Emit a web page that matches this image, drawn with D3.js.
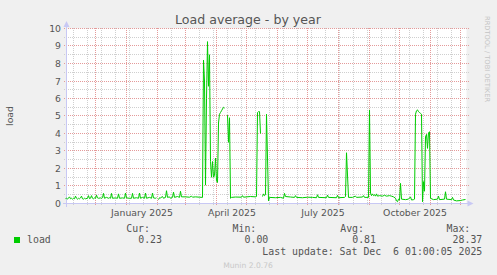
<!DOCTYPE html>
<html><head><meta charset="utf-8">
<script src="https://cdn.jsdelivr.net/npm/d3@7/dist/d3.min.js"></script>
<style>body{margin:0;background:#f0f0f0;}svg{display:block;}</style>
</head><body>
<svg id="chart" width="497" height="275"></svg>
<script>
// ---------- data ----------
const title = "Load average - by year";
const yLabel = "load";
const seriesName = "load";
const yTicks = [0,1,2,3,4,5,6,7,8,9,10];
const xLabelMonths = ["2025-01-01","2025-04-01","2025-07-01","2025-10-01"];
const rangeStart = "2024-11-01";
const rangeEnd = "2025-12-06";
const statLabels = ["Cur:","Min:","Avg:","Max:"];
const statValues = ["0.23","0.00","0.81","28.37"];
const lastUpdate = "Last update: Sat Dec  6 01:00:05 2025";
const watermark = "RRDTOOL / TOBI OETIKER";
const footer = "Munin 2.0.76";

const dates = [
"2024-11-01","2024-11-02","2024-11-03","2024-11-04","2024-11-05","2024-11-06","2024-11-07","2024-11-08","2024-11-09","2024-11-10",
"2024-11-11","2024-11-12","2024-11-13","2024-11-14","2024-11-15","2024-11-16","2024-11-17","2024-11-18","2024-11-19","2024-11-20",
"2024-11-21","2024-11-23","2024-11-24","2024-11-25","2024-11-26","2024-11-27","2024-11-28","2024-11-29","2024-11-30",
"2024-12-01","2024-12-02","2024-12-03","2024-12-04","2024-12-06","2024-12-07","2024-12-08","2024-12-09","2024-12-10","2024-12-12",
"2024-12-14","2024-12-15","2024-12-16","2024-12-17","2024-12-18","2024-12-21","2024-12-23","2024-12-24","2024-12-25","2024-12-28",
"2024-12-30","2024-12-31","2025-01-01","2025-01-04","2025-01-06","2025-01-07","2025-01-08","2025-01-11","2025-01-13","2025-01-14",
"2025-01-15","2025-01-17","2025-01-19","2025-01-20","2025-01-21","2025-01-24","2025-01-26","2025-01-27","2025-01-28","2025-01-30",
"2025-01-31","2025-02-01","2025-02-02","2025-02-03","2025-02-04","2025-02-06","2025-02-07","2025-02-09","2025-02-10","2025-02-11",
"2025-02-13","2025-02-14","2025-02-16","2025-02-17","2025-02-18","2025-02-21","2025-02-23","2025-02-24","2025-02-25","2025-03-01",
"2025-03-05","2025-03-07","2025-03-08","2025-03-11","2025-03-15","2025-03-18","2025-03-19","2025-03-20","2025-03-21","2025-03-22",
"2025-03-23","2025-03-24","2025-03-25","2025-03-26","2025-03-27","2025-03-28","2025-03-29","2025-03-30","2025-03-31","2025-04-01",
"2025-04-02","2025-04-03","2025-04-04","2025-04-05","2025-04-06","2025-04-07","2025-04-08","2025-04-09","2025-04-10","2025-04-11",
"2025-04-12","2025-04-13","2025-04-14","2025-04-15","2025-04-16","2025-04-20","2025-04-26","2025-04-27","2025-04-28","2025-05-05",
"2025-05-10","2025-05-11","2025-05-12","2025-05-13","2025-05-14","2025-05-15","2025-05-16","2025-05-17","2025-05-18","2025-05-19",
"2025-05-20","2025-05-21","2025-05-23","2025-05-24","2025-05-30","2025-06-04","2025-06-07","2025-06-08","2025-06-09","2025-06-14",
"2025-06-18","2025-06-19","2025-06-20","2025-06-26","2025-07-01","2025-07-06","2025-07-10","2025-07-11","2025-07-12","2025-07-20",
"2025-07-21","2025-07-22","2025-07-30","2025-07-31","2025-08-01","2025-08-07","2025-08-08","2025-08-09","2025-08-11","2025-08-15",
"2025-08-18","2025-08-19","2025-08-25","2025-08-26","2025-08-27","2025-08-31","2025-09-01","2025-09-02","2025-09-03","2025-09-04",
"2025-09-05","2025-09-06","2025-09-07","2025-09-08","2025-09-09","2025-09-11","2025-09-14","2025-09-16","2025-09-18","2025-09-21",
"2025-09-23","2025-09-25","2025-09-27","2025-09-28","2025-09-29","2025-09-30","2025-10-01","2025-10-02","2025-10-03","2025-10-07",
"2025-10-10","2025-10-12","2025-10-13","2025-10-15","2025-10-16","2025-10-17","2025-10-18","2025-10-19","2025-10-20","2025-10-21",
"2025-10-22","2025-10-23","2025-10-24","2025-10-25","2025-10-26","2025-10-27","2025-10-28","2025-10-29","2025-10-30","2025-10-31",
"2025-11-01","2025-11-04","2025-11-08","2025-11-09","2025-11-10","2025-11-15","2025-11-16","2025-11-17","2025-11-22","2025-11-23",
"2025-11-24","2025-11-27","2025-12-01","2025-12-03","2025-12-06"
];
const load = [
0.28,0.30,0.25,0.32,0.38,0.27,0.30,0.25,0.30,0.27,
0.42,0.30,0.25,0.30,0.27,0.32,0.42,0.27,0.25,0.30,
0.27,0.30,0.45,0.28,0.30,0.45,0.30,0.27,0.32,
0.30,0.48,0.32,0.30,0.32,0.30,0.33,0.58,0.30,0.35,
0.30,0.33,0.30,0.58,0.30,0.32,0.30,0.55,0.30,0.32,
0.30,0.60,0.32,0.30,0.30,0.58,0.30,0.33,0.30,0.60,
0.30,0.35,0.30,0.60,0.30,0.35,0.30,0.60,0.32,0.30,
0.33,null,0.22,0.33,0.32,0.40,0.30,0.35,0.73,0.35,
0.38,0.30,0.35,0.65,0.35,0.40,0.35,0.70,0.38,0.38,
0.36,0.42,0.36,0.38,0.36,0.35,8.20,7.00,1.05,6.00,
9.25,6.70,8.50,2.40,1.50,2.40,1.50,1.60,2.60,1.30,
1.20,4.60,5.10,5.20,5.30,5.40,5.50,5.45,null,null,
5.05,3.50,4.90,0.30,0.35,0.37,0.36,0.45,0.36,0.40,
0.38,0.40,5.20,5.25,5.25,4.00,null,0.40,0.55,0.45,
0.50,5.10,0.15,0.35,0.33,0.35,0.30,0.58,0.40,0.37,
0.35,0.45,0.35,0.33,0.36,0.35,0.33,0.50,0.35,0.33,
0.48,0.35,0.33,0.47,0.33,0.35,0.40,2.90,0.35,0.35,
0.42,0.35,0.37,0.45,0.35,0.35,5.35,0.60,0.45,0.55,
0.45,0.50,0.42,0.55,0.42,0.45,0.42,0.47,0.42,0.45,
0.42,0.38,0.30,0.15,0.10,0.25,0.20,1.15,0.25,0.22,
0.25,0.38,0.20,0.22,0.25,5.10,5.30,5.35,5.25,5.20,
5.15,5.10,0.10,1.25,0.70,3.80,3.95,3.15,4.05,4.10,
0.30,0.22,0.25,0.42,0.22,0.25,0.67,0.25,0.22,0.35,
0.20,0.15,0.17,0.20,0.23
];

// ---------- drawing ----------
const W = 497, H = 275;
const parse = d3.utcParse("%Y-%m-%d");
const svg = d3.select("#chart");
const font = "'DejaVu Sans', sans-serif";
const mono = "'DejaVu Sans Mono', monospace";
const textCol = "#555";

svg.append("rect").attr("width", W).attr("height", H).attr("fill", "#f0f0f0");

const plotL = 66.5, plotR = 466.5, plotT = 28.5, plotB = 203.5;
const x = d3.scaleUtc().domain([parse(rangeStart), parse(rangeEnd)]).range([65.5, 465.5]);
const y = d3.scaleLinear().domain([0, 10]).range([plotB, plotT]);
const snapY = v => Math.ceil(y(v)) - 0.5;
const snapX = d => Math.round(x(d) - 0.5) + 0.5;

svg.append("rect").attr("x", plotL).attr("y", plotT)
  .attr("width", plotR - plotL).attr("height", plotB - plotT).attr("fill", "#fff");

const grid = svg.append("g").attr("shape-rendering", "crispEdges");
const minorCol = "#cfcfcf", majorCol = "#e49a9a";
// minor horizontal (every 0.5)
const minorY = d3.range(0.5, 10, 1);
grid.selectAll(".hmin").data(minorY).enter().append("line")
  .attr("x1", 64).attr("x2", 469)
  .attr("y1", d => snapY(d)).attr("y2", d => snapY(d))
  .attr("stroke", minorCol).attr("stroke-dasharray", "1,1");
// minor vertical (bi-weekly)
const anchor = parse("2025-10-11");
const minorX = d3.utcSaturday.range(x.domain()[0], x.domain()[1])
  .filter(d => Math.round((d - anchor) / (7 * 864e5)) % 2 === 0);
grid.selectAll(".vmin").data(minorX).enter().append("line")
  .attr("x1", snapX).attr("x2", snapX)
  .attr("y1", 28).attr("y2", 206)
  .attr("stroke", minorCol).attr("stroke-dasharray", "1,1");
// major horizontal
grid.selectAll(".hmaj").data(yTicks.filter(v => v > 0)).enter().append("line")
  .attr("x1", 64).attr("x2", 469)
  .attr("y1", d => snapY(d)).attr("y2", d => snapY(d))
  .attr("stroke", majorCol).attr("stroke-dasharray", "1,1");
// major vertical (months)
const majorX = d3.utcMonth.range(x.domain()[0], x.domain()[1]).filter(d => x(d) > plotL + 1);
grid.selectAll(".vmaj").data(majorX).enter().append("line")
  .attr("x1", snapX).attr("x2", snapX)
  .attr("y1", 28).attr("y2", 206)
  .attr("stroke", majorCol).attr("stroke-dasharray", "1,1");

// axes lines + arrows
const axCol = "#c8c8f4";
svg.append("line").attr("x1", 63).attr("x2", 468).attr("y1", plotB).attr("y2", plotB).attr("stroke", axCol);
svg.append("line").attr("x1", plotL).attr("x2", plotL).attr("y1", 207).attr("y2", 26).attr("stroke", axCol);
svg.append("path").attr("d", `M${plotL - 3},${plotT - 1.5}L${plotL + 3},${plotT - 1.5}L${plotL},${plotT - 7.5}Z`).attr("fill", axCol);
svg.append("path").attr("d", `M${plotR + 1},${plotB - 3}L${plotR + 1},${plotB + 3}L${plotR + 7},${plotB}Z`).attr("fill", axCol);

// data line
const pts = dates.map((d, i) => ({ date: parse(d), v: load[i] }));
const line = d3.line().defined(d => d.v !== null).x(d => x(d.date)).y(d => y(d.v));
svg.append("path").datum(pts).attr("d", line)
  .attr("fill", "none").attr("stroke", "#00cc00").attr("stroke-width", 1);

// y axis labels
const yAxis = d3.axisLeft(y).tickValues(yTicks).tickSize(0).tickPadding(0).tickFormat(d3.format("d"));
const gy = svg.append("g").attr("transform", "translate(61,0)").call(yAxis);
gy.select(".domain").remove();
gy.selectAll("text").attr("font-family", font).attr("font-size", 9.3).attr("fill", textCol)
  .attr("y", d => snapY(d) - y(d)).attr("dy", "0.36em");

// x axis labels (centered on mid-month, as rrdtool does)
const labelDates = xLabelMonths.map(m => d3.utcDay.offset(parse(m), 15));
const xAxis = d3.axisBottom(x).tickValues(labelDates).tickSize(0).tickPadding(6).tickFormat(d3.utcFormat("%B %Y"));
const gx = svg.append("g").attr("transform", `translate(0,${plotB})`).call(xAxis);
gx.select(".domain").remove();
gx.selectAll("text").attr("font-family", font).attr("font-size", 9.3).attr("fill", textCol);

// title
svg.append("text").attr("x", 248).attr("y", 24).attr("text-anchor", "middle")
  .attr("font-family", font).attr("font-size", 12.6).attr("fill", textCol).text(title);

// y label
svg.append("text").attr("transform", `translate(13,${(plotT + plotB) / 2}) rotate(-90)`)
  .attr("text-anchor", "middle").attr("font-family", font).attr("font-size", 9.3)
  .attr("fill", textCol).text(yLabel);

// watermark
svg.append("text").attr("transform", "translate(485,16) rotate(90)")
  .attr("font-family", font).attr("font-size", 6.7).attr("fill", "#c4c4c4").text(watermark);

// legend
svg.append("rect").attr("x", 14).attr("y", 237).attr("width", 6).attr("height", 6).attr("fill", "#00cc00");
svg.append("text").attr("x", 27).attr("y", 243).attr("font-family", mono).attr("font-size", 9.9)
  .attr("fill", textCol).text(seriesName);
const valueEnds = [162, 268.3, 376, 482.3];
statLabels.forEach((lab, i) => {
  svg.append("text").attr("x", valueEnds[i] - 12).attr("y", 231.5).attr("text-anchor", "end")
    .attr("font-family", mono).attr("font-size", 9.9).attr("fill", textCol).text(lab);
  svg.append("text").attr("x", valueEnds[i]).attr("y", 243).attr("text-anchor", "end")
    .attr("font-family", mono).attr("font-size", 9.9).attr("fill", textCol).text(statValues[i]);
});
svg.append("text").attr("x", 482.3).attr("y", 255).attr("text-anchor", "end")
  .attr("font-family", mono).attr("font-size", 9.9).attr("fill", textCol)
  .attr("xml:space", "preserve").style("white-space", "pre").text(lastUpdate);
svg.append("text").attr("x", 248).attr("y", 268).attr("text-anchor", "middle")
  .attr("font-family", font).attr("font-size", 7.6).attr("fill", "#c8c8c8").text(footer);
</script>
</body></html>
